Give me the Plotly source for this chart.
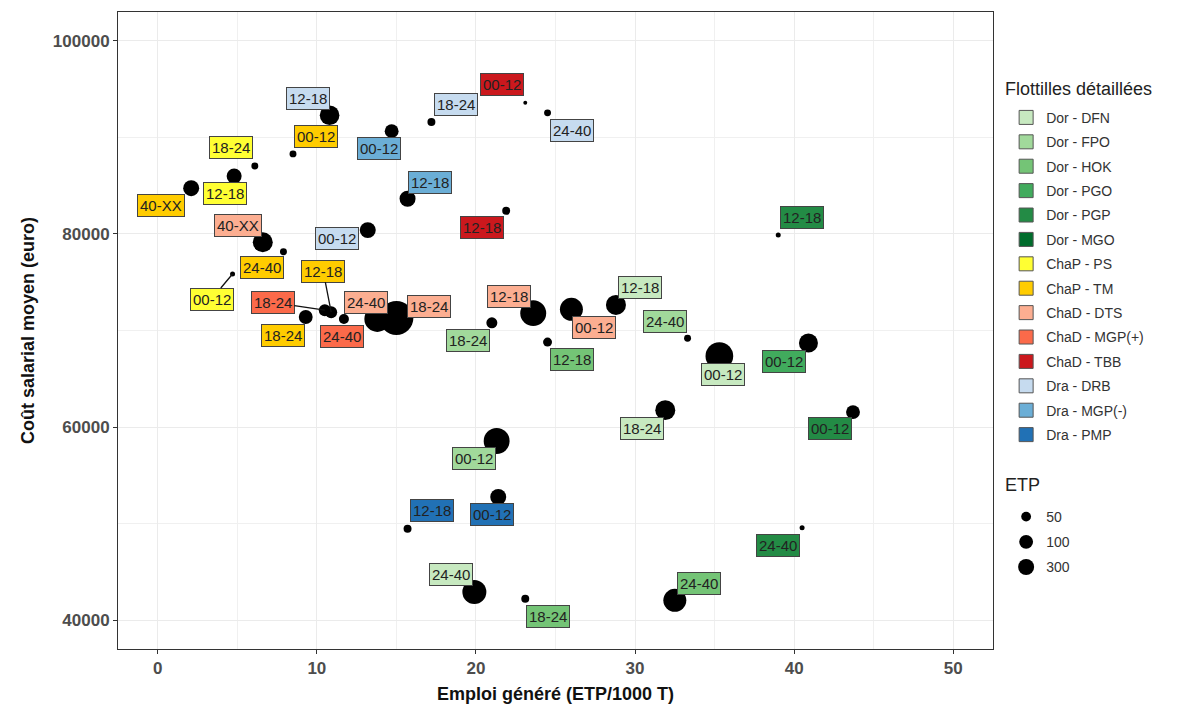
import plotly.graph_objects as go
import numpy as np

# flottille, classe de taille, emploi (ETP/1000 T), cout salarial (euro), ETP
flottilles = [
    "Dra - DRB", "ChaP - TM", "ChaP - PS", "ChaP - PS", "ChaP - TM",
    "Dra - MGP(-)", "Dra - DRB", "Dra - MGP(-)", "ChaD - DTS", "ChaP - TM",
    "Dra - DRB", "ChaP - PS", "ChaD - MGP(+)", "ChaP - TM", "ChaP - TM",
    "ChaD - MGP(+)", "ChaD - DTS", "ChaD - DTS", "ChaD - TBB", "Dra - DRB",
    "ChaD - TBB", "Dor - FPO", "ChaD - DTS", "Dor - HOK", "ChaD - DTS",
    "Dor - DFN", "Dor - FPO", "Dor - DFN", "Dor - DFN", "Dor - PGO",
    "Dor - PGP", "Dor - PGP", "Dor - FPO", "Dra - PMP", "Dra - PMP",
    "Dor - DFN", "Dor - HOK", "Dor - HOK", "Dor - PGP",
]
classes = [
    "12-18", "00-12", "18-24", "12-18", "40-XX",
    "00-12", "18-24", "12-18", "40-XX", "24-40",
    "00-12", "00-12", "18-24", "12-18", "18-24",
    "24-40", "24-40", "18-24", "00-12", "24-40",
    "12-18", "18-24", "12-18", "12-18", "00-12",
    "12-18", "24-40", "00-12", "18-24", "00-12",
    "12-18", "00-12", "00-12", "00-12", "12-18",
    "24-40", "18-24", "24-40", "24-40",
]
emploi = [
    10.8, 8.5, 6.1, 4.8, 2.1,
    14.7, 17.2, 15.7, 6.6, 7.9,
    13.2, 4.7, 10.5, 10.9, 9.3,
    11.7, 13.8, 15.0, 23.1, 24.5,
    21.9, 21.0, 23.6, 24.5, 26.0,
    28.8, 33.3, 35.3, 31.9, 40.9,
    39.0, 43.7, 21.3, 21.4, 15.7,
    19.9, 23.1, 32.5, 40.5,
]
cout = [
    92300, 88300, 87050, 86000, 84750,
    90650, 91600, 83650, 79150, 78150,
    80400, 75850, 72100, 71900, 71400,
    71200, 71200, 71300, 93600, 92550,
    82400, 70800, 71800, 68800, 72200,
    72650, 69200, 67350, 61750, 68700,
    79900, 61550, 58550, 52750, 49450,
    42900, 42200, 42050, 49550,
]
etp = [
    200, 25, 25, 117, 133,
    100, 33, 133, 208, 25,
    133, 13, 75, 75, 100,
    52, 350, 600, 8, 25,
    33, 63, 350, 42, 275,
    208, 25, 400, 208, 188,
    13, 100, 350, 133, 33,
    300, 33, 275, 13,
]

legend_etp = [50, 100, 300]

# couleurs des flottilles
couleurs = {
    "Dor - DFN": "#c7e9c0",
    "Dor - FPO": "#a1d99b",
    "Dor - HOK": "#74c476",
    "Dor - PGO": "#41ab5d",
    "Dor - PGP": "#238b45",
    "Dor - MGO": "#006d2c",
    "ChaP - PS": "#ffff33",
    "ChaP - TM": "#ffcc00",
    "ChaD - DTS": "#fcae91",
    "ChaD - MGP(+)": "#fb6a4a",
    "ChaD - TBB": "#cb181d",
    "Dra - DRB": "#c6dbef",
    "Dra - MGP(-)": "#6baed6",
    "Dra - PMP": "#2171b5",
}

# decalage des etiquettes (pixels) facon ggrepel, et segments visibles
label_offsets = [
    (-22, -17), (23, -17), (-24, -18), (-9, 17), (-30, 17),
    (-13, 17), (25, -18), (22, -16), (-25, -17), (-21, 16),
    (-31, 8), (-21, 25), (-52, -8), (-8, -41), (-23, 19),
    (-2, 18), (-11, -16), (33, -11), (-23, -18), (24, 18),
    (-24, 17), (-24, 18), (-24, -17), (24, 17), (23, 18),
    (24, -17), (-23, -17), (4, 18), (-23, 18), (-24, 18),
    (24, -17), (-23, 16), (-23, 17), (-6, 18), (24, -18),
    (-23, -18), (23, 18), (24, -17), (-24, 18),
]
segments = {11, 12, 13}

K = 1.386  # diametre = K * sqrt(ETP)


def taille(v):
    return K * np.sqrt(np.array(v, dtype=float))


fig = go.Figure()

fig.add_trace(go.Scatter(
    x=emploi, y=cout, mode="markers",
    marker=dict(color="black", size=taille(etp), opacity=1, line=dict(width=0)),
    showlegend=False, hoverinfo="skip",
))

for i, (xv, yv) in enumerate(zip(emploi, cout)):
    dx, dy = label_offsets[i]
    fig.add_annotation(
        x=xv, y=yv, ax=dx, ay=dy, text=classes[i],
        showarrow=True, arrowhead=0, arrowwidth=1.3,
        arrowcolor="#111" if i in segments else "rgba(0,0,0,0)",
        font=dict(size=15, color="#222", family="Liberation Sans, Arial"),
        bgcolor=couleurs[flottilles[i]], bordercolor="#444",
        borderwidth=1, borderpad=2,
    )

# legendes
for nom, col in couleurs.items():
    fig.add_trace(go.Scatter(
        x=[None], y=[None], mode="markers", name=nom, legendgroup=nom,
        marker=dict(symbol="square", size=14, color=col,
                    line=dict(color="#555", width=1)),
        legend="legend",
    ))
for v in legend_etp:
    fig.add_trace(go.Scatter(
        x=[None], y=[None], mode="markers", name=str(v), legendgroup="etp" + str(v),
        marker=dict(color="black", size=float(taille([v])[0]), opacity=1),
        legend="legend2",
    ))

# titres des legendes
for txt, yp in [("Flottilles détaillées", 0.879), ("ETP", 0.2575)]:
    fig.add_annotation(
        xref="paper", yref="paper", x=1.0114, y=yp, text=txt,
        xanchor="left", yanchor="middle", showarrow=False,
        font=dict(size=18, color="#222"),
    )

axis_common = dict(
    showgrid=True, gridcolor="#ebebeb", gridwidth=1,
    showline=True, linecolor="#333", linewidth=1, mirror=True,
    ticks="outside", ticklen=4, tickcolor="#333",
    tickfont=dict(size=17, color="#4d4d4d", family="Liberation Sans, Arial", weight="bold"),
    zeroline=False, automargin=False,
)

# la page ajoute 8 px de marge autour du graphique
fig.update_layout(
    width=1196, height=697,
    margin=dict(l=110, r=211, t=4, b=56),
    plot_bgcolor="white", paper_bgcolor="white",
    font=dict(family="Liberation Sans, Arial", color="#222"),
    xaxis=dict(
        range=[-2.5, 52.5], tickvals=[0, 10, 20, 30, 40, 50],
        minor=dict(tickvals=[5, 15, 25, 35, 45], showgrid=True, gridcolor="#f0f0f0"),
        title=dict(text="Emploi généré (ETP/1000 T)", standoff=9,
                   font=dict(size=18, color="#111", weight="bold")),
        **axis_common,
    ),
    yaxis=dict(
        range=[37000, 103000], tickvals=[40000, 60000, 80000, 100000],
        tickformat="d",
        minor=dict(tickvals=[50000, 70000, 90000], showgrid=True, gridcolor="#f0f0f0"),
        title=dict(text="Coût salarial moyen (euro)", standoff=13,
                   font=dict(size=18, color="#111", weight="bold")),
        **axis_common,
    ),
    legend=dict(
        x=1.015, y=0.859, xanchor="left", yanchor="top",
        font=dict(size=14, color="#333"), itemsizing="trace",
        tracegroupgap=3.2, bgcolor="rgba(0,0,0,0)",
    ),
    legend2=dict(
        x=1.015, y=0.2323, xanchor="left", yanchor="top",
        font=dict(size=14, color="#333"), itemsizing="trace",
        tracegroupgap=4, bgcolor="rgba(0,0,0,0)",
    ),
)

fig.write_html("out.html")
